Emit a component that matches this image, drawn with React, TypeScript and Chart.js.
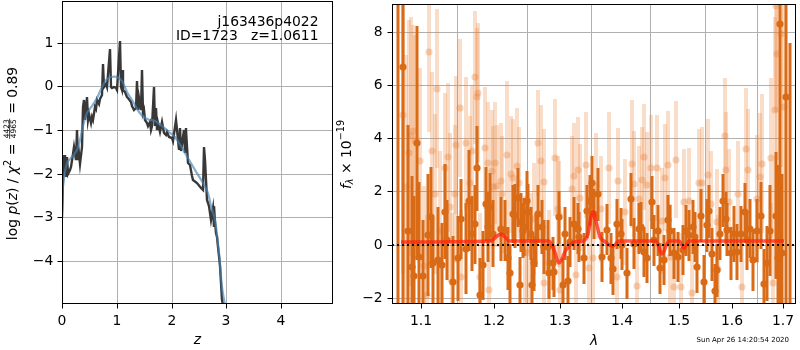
import React, { useEffect, useRef } from 'react';
import { Chart, registerables } from 'chart.js';
Chart.register(...registerables);

// ---------------- Left panel: log p(z) ----------------
const pzZ = [0, 0.012, 0.025, 0.037, 0.049, 0.062, 0.086, 0.111, 0.136, 0.167, 0.198, 0.222, 0.247, 0.265, 0.284, 0.309, 0.333, 0.358, 0.383, 0.401, 0.42, 0.444, 0.469, 0.494, 0.519, 0.543, 0.568, 0.593, 0.617, 0.642, 0.667, 0.691, 0.722, 0.753, 0.772, 0.802, 0.827, 0.864, 0.883, 0.914, 0.951, 0.981, 1.01, 1.05, 1.068, 1.09, 1.11, 1.12, 1.15, 1.18, 1.21, 1.25, 1.28, 1.31, 1.34, 1.37, 1.39, 1.41, 1.44, 1.46, 1.48, 1.5, 1.52, 1.55, 1.57, 1.6, 1.62, 1.64, 1.67, 1.69, 1.72, 1.74, 1.76, 1.79, 1.83, 1.86, 1.89, 1.92, 1.95, 2.0, 2.03, 2.09, 2.13, 2.16, 2.17, 2.22, 2.24, 2.26, 2.27, 2.3, 2.34, 2.37, 2.4, 2.46, 2.54, 2.57, 2.6, 2.62, 2.64, 2.68, 2.71, 2.73, 2.75, 2.77, 2.78, 2.8, 2.81, 2.83, 2.85, 2.86, 2.88, 2.91, 2.93, 2.95];
const pzLogP = [-2.99, -2.15, -1.58, -1.92, -1.58, -2.08, -1.62, -2.0, -1.92, -1.85, -1.54, -1.39, -1.69, -1.01, -1.69, -1.54, -1.77, -1.39, -0.47, -0.32, -0.78, -0.24, -0.78, -0.63, -0.85, -0.7, -0.78, -0.47, -0.51, -0.32, -0.4, -0.28, -0.21, 0.52, -0.02, 0.06, -0.02, 0.86, -0.02, -0.05, -0.02, -0.05, -0.09, 1.04, -0.02, -0.09, 0.37, -0.09, -0.12, -0.24, -0.27, -0.35, -0.46, -0.54, -0.5, 0.11, -0.54, -0.27, -0.54, 0.37, -0.62, -0.54, -0.77, -0.85, -0.92, -0.81, -1.0, -0.92, -0.01, -0.92, -0.5, -1.0, -0.85, -1.04, -0.81, -1.07, -1.11, -1.04, -1.15, -1.19, -1.26, -0.77, -1.46, -0.96, -1.49, -1.0, -1.53, -0.96, -1.0, -1.76, -1.8, -2.06, -2.14, -2.22, -2.33, -2.37, -1.38, -1.68, -2.6, -2.75, -2.9, -3.06, -2.79, -3.21, -2.75, -3.1, -3.36, -3.44, -3.67, -3.89, -4.12, -4.5, -4.88, -5.0];
const smoothZ = [0, 0.02, 0.08, 0.17, 0.26, 0.33, 0.38, 0.45, 0.54, 0.63, 0.72, 0.81, 0.9, 1.0, 1.09, 1.18, 1.28, 1.4, 1.52, 1.61, 1.7, 1.83, 1.95, 2.06, 2.25, 2.43, 2.58, 2.67, 2.73, 2.8, 2.86, 2.92, 2.97];
const smoothLogP = [-2.9, -2.29, -1.76, -1.61, -1.46, -1.23, -0.92, -0.62, -0.46, -0.27, -0.01, 0.16, 0.22, 0.21, 0.12, -0.12, -0.31, -0.58, -0.73, -0.77, -0.8, -0.9, -1.05, -1.17, -1.53, -1.91, -2.22, -2.45, -2.75, -3.06, -3.82, -4.58, -5.0];
const leftXTicks = [0, 1, 2, 3, 4];
const leftYTicks = [-4, -3, -2, -1, 0, 1];
const leftXRange = [0, 4.96];
const leftYRange = [-4.98, 1.95];

// ---------------- Right panel: spectrum ----------------
const darkLam = [1.0691, 1.0757, 1.0821, 1.0873, 1.0899, 1.0938, 1.0974, 1.1026, 1.1083, 1.1127, 1.1159, 1.1225, 1.1272, 1.1317, 1.1340, 1.1422, 1.1491, 1.1536, 1.1601, 1.1647, 1.1686, 1.1732, 1.1760, 1.1808, 1.1850, 1.1888, 1.1922, 1.1955, 1.1993,
  1.2101, 1.2159, 1.2207, 1.2247, 1.2281, 1.2316, 1.2365, 1.2385, 1.2405, 1.2430, 1.2455, 1.2495, 1.2514, 1.2554, 1.2564, 1.2605, 1.2630, 1.2666, 1.2716, 1.2757, 1.2808, 1.2834, 1.2885, 1.2912, 1.2989, 1.3042, 1.3080, 1.3120, 1.3163, 1.3226, 1.3279, 1.3305, 1.3375, 1.3430, 1.3483, 1.3511, 1.3548, 1.3601,
  1.3678, 1.3761, 1.3827, 1.3861, 1.3928, 1.3983, 1.4012, 1.4096, 1.4152, 1.4210, 1.4295, 1.4335, 1.4381, 1.4439, 1.4525, 1.4566, 1.4625, 1.4671, 1.4731, 1.4807, 1.4849, 1.4921, 1.4982, 1.5078, 1.5138, 1.5181, 1.5260, 1.5302,
  1.5327, 1.5401, 1.5463, 1.5513, 1.5555, 1.5617, 1.5668, 1.5712, 1.5763, 1.5826, 1.5871, 1.5902, 1.5966, 1.6030, 1.6094, 1.6159, 1.6237, 1.6289, 1.6342, 1.6407, 1.6485, 1.6553, 1.6625, 1.6685, 1.6739, 1.6853, 1.6899, 1.6940, 1.6994, 1.7068, 1.7144];
const darkFlux = [-2.8, 6.67, 0.5, -0.83, -1.18, 3.82, -0.46, -1.18, 0.37, 1.03, -0.7, -0.58, -0.77, 1.24, 0.16, -1.39, -0.52, 0.97, -0.15, 1.65, 0.41, 0.76, 2.87, -1.89, -0.77, 1.53, 0.66, 1.4, 0.41,
  0.6, 0.53, -0.52, -1.08, 1.15, 1.09, 1.77, -1.51, 0.84, 0.53, 0.66, 1.65, 1.22, 0.41, -1.51, -0.71, 0.16, 1.15, 0.66, -0.09, -0.09, -1.08, -0.71, -1.02, 1.03, -1.51, 0.41, -1.36, 0.1, 0.78, 0.6, 0.29, -0.52, 1.25, 1.65, 2.33, 1.15, 1.9,
  -0.46, 0.56, -0.52, -0.93, 0.78, 0.41, 0, -1.08, 1.71, 0.04, 0.6, 0.66, -0.27, -0.5, 1.59, 0.16, 0.53, -0.89, -0.58, 0.91, 0.53, -0.33, -0.46, -0.21, 0.53, 0.35, 0.66, 0.29,
  -0.83, 1.09, -1.39, 0.72, 1.25, -0.36, -1.74, -0.96, 0.41, 1.65, 0.97, 0.56, -0.33, 0.41, -0.27, 0.41, 1.22, 0.16, 0.6, -0.58, 0.53, 1.09, -1.48, -0.71, 0.53, 1.09, -0.52, 8.31, -0.33, 5.56, -3.0];
const darkErr = [14, 12, 4.0, 3.4, 3.0, 4.4, 2.8, 2.1, 2.3, 1.9, 1.7, 2.0, 1.6, 1.8, 1.5, 1.7, 1.6, 1.5, 1.7, 1.9, 1.4, 1.5, 1.6, 1.4, 1.3, 1.4, 1.3, 1.3, 1.25,
  1.2, 1.15, 1.2, 1.1, 1.1, 1.2, 1.1, 1.05, 1.1, 1.05, 1.1, 1.1, 1.05, 1.0, 1.0, 1.05, 1.0, 1.1, 1.0, 1.0, 1.0, 0.95, 1.0, 0.95, 1.0, 1.0, 1.0, 0.95, 0.95, 1.0, 0.95, 0.95, 0.95, 1.0, 0.95, 1.0, 0.95, 1.0,
  0.95, 0.95, 0.95, 0.95, 0.95, 0.95, 0.95, 0.95, 1.0, 0.95, 0.95, 0.95, 0.95, 0.95, 1.0, 0.95, 0.95, 0.95, 0.95, 0.95, 0.95, 0.95, 0.95, 0.95, 0.95, 0.95, 1.0, 0.95,
  1.0, 1.0, 1.0, 1.0, 1.0, 1.0, 1.0, 1.0, 1.0, 1.0, 1.0, 1.0, 1.0, 1.05, 1.05, 1.05, 1.1, 1.1, 1.1, 1.15, 1.2, 1.25, 1.3, 1.4, 1.7, 2.4, 3.5, 15, 3.0, 15, 10.6];

const lightLam = [1.0755, 1.0798, 1.0838, 1.0864, 1.0896, 1.0917, 1.0982, 1.1030, 1.1070, 1.1101, 1.1136, 1.1180, 1.1207, 1.1248, 1.1317, 1.1352, 1.1384, 1.1408, 1.1452, 1.1466, 1.1522, 1.1545, 1.1601, 1.1661, 1.1686, 1.1732, 1.1760, 1.1775, 1.1803, 1.1874, 1.1913, 1.1931, 1.1970, 1.1993,
  1.2027, 1.2056, 1.2101, 1.2120, 1.2192, 1.2256, 1.2281, 1.2343, 1.2380, 1.2465, 1.2495, 1.2554, 1.2605, 1.2666, 1.2706, 1.2747, 1.2757, 1.2834, 1.2927, 1.2963, 1.2989, 1.3005, 1.3184, 1.3215, 1.3253, 1.3279, 1.3321, 1.3413, 1.3455, 1.3520, 1.3575,
  1.3650, 1.3788, 1.3928, 1.3939, 1.4066, 1.4169, 1.4220, 1.4267, 1.4295, 1.4352, 1.4392, 1.4439, 1.4513, 1.4613, 1.4701, 1.4749, 1.4807, 1.4849, 1.4910, 1.4951, 1.5042, 1.5102, 1.5181, 1.5242,
  1.5370, 1.5425, 1.5537, 1.5586, 1.5700, 1.5720, 1.5852, 1.5871, 1.5934, 1.6108, 1.6190, 1.6269, 1.6309, 1.6485, 1.6533, 1.6572, 1.6753, 1.6805, 1.6833, 1.6853, 1.6873, 1.6974, 1.7021];
const lightFlux = [4.88, 2.15, 3.45, 4.07, 4.26, 3.9, 3.14, -0.8, -1.89, 7.23, 3.51, 1.9, 5.87, 0.53, 2.89, 3.29, 1.4, -1.4, 1.9, 3.76, 5.15, -1.2, 3.82, 2.33, 3.51, 6.3, 5.56, 5.72, -1.2, 3.64, 3.08, -1.7, 2.77, 2.15,
  3.08, 2.21, 2.39, 1.9, 3.36, 2.64, 2.52, 2.95, 2.33, -0.27, -0.33, -0.15, 0.97, 3.82, 3.14, 2.36, -1.45, -0.7, 3.26, 1.34, 1.15, -1.7, 2.08, 2.58, -1.14, 2.79, 1.77, 2.99, -0.89, -0.52, 2.21,
  1.34, 2.89, -1.2, 2.39, 1.22, 3.04, 2.27, -1.55, 1.71, 2.42, 3.3, 2.25, 2.89, 2.89, 0.88, 2.52, 3.01, -0.46, -1.58, 3.2, -1.58, 1.59, 1.65, -1.82,
  2.33, 2.33, 2.62, 1.52, 0.84, -0.9, 4.07, 2.79, 1.59, 1.9, -1.58, 3.6, 2.79, 1.71, 2.54, 3.05, 3.26, -1.45, 5.06, 8.97, 7.17, 7.92, 5.19];
const lightErr = [6, 5, 5, 4.5, 4, 4, 3.5, 3, 3, 3, 3, 3, 3, 3, 2.8, 2.8, 2.8, 2.6, 2.6, 2.6, 2.6, 2.5, 2.5, 2.5, 2.5, 2.5, 2.6, 2.6, 2.4, 2.3, 2.3, 2.3, 2.3, 2.3,
  2.3, 2.3, 2.2, 2.2, 2.8, 2.2, 2.2, 2.2, 2.1, 2.1, 2.1, 2.1, 2.1, 2.0, 2.1, 2.0, 2.0, 2.0, 2.2, 2.0, 2.0, 2.0, 2.0, 2.0, 2.0, 2.0, 2.0, 2.0, 2.0, 2.0, 2.0,
  2, 2.1, 2, 2, 2, 2.4, 2, 2, 2, 2, 2, 2, 2, 2, 2, 2, 2, 2, 2, 2.2, 2, 2, 2, 2,
  2, 2.1, 2.1, 2, 2, 2, 2.2, 2.2, 2, 2, 2, 2.3, 2.3, 2.4, 2.4, 2.6, 3, 3, 3.5, 4, 4, 5, 5];

const modelLam = [1.074, 1.196, 1.204, 1.211, 1.217, 1.223, 1.283, 1.291, 1.299, 1.309, 1.3226, 1.3358, 1.3439, 1.3494, 1.3531, 1.3575, 1.364, 1.371, 1.385, 1.396, 1.459, 1.4706, 1.4825, 1.5005, 1.5095, 1.5186, 1.702];
const modelFlux = [0.11, 0.12, 0.3, 0.41, 0.3, 0.13, 0.12, -0.2, -0.71, -0.21, 0.09, 0.13, 0.41, 1.03, 1.28, 0.9, 0.28, 0.12, -0.06, 0.12, 0.12, -0.34, 0.12, 0.12, -0.11, 0.12, 0.12];

const rightXTicks = [1.1, 1.2, 1.3, 1.4, 1.5, 1.6, 1.7];
const rightYTicks = [-2, 0, 2, 4, 6, 8];
const rightXRange = [1.0614, 1.7274];
const rightYRange = [-2.234, 9.05];

const TITLE = 'j163436p4022';
const SUBTITLE = 'ID=1723   z=1.0611';
const STAMP = 'Sun Apr 26 14:20:54 2020';

// ---------------- helpers ----------------
const FAM = "'DejaVu Sans'";
const TICK_FONT = { family: 'DejaVu Sans', size: 13.9 };
const minus = (v: number | string) => String(v).replace('-', '\u2212');
const RIGHT_OFF = 330; // page x of right canvas

type Seg = { t?: string; size: number; italic?: boolean; dy?: number; num?: string; den?: string; numY?: number; denY?: number; barY?: number };

function drawRotatedRich(ctx: CanvasRenderingContext2D, segs: Seg[], baseX: number, centerY: number) {
  const fontOf = (s: Seg) => `${s.italic ? 'italic ' : ''}${s.size}px ${FAM}`;
  const widths = segs.map((s) => {
    ctx.font = fontOf(s);
    if (s.num !== undefined) return Math.max(ctx.measureText(s.num).width, ctx.measureText(s.den || '').width) + 2;
    return ctx.measureText(s.t || '').width;
  });
  const total = widths.reduce((a, b) => a + b, 0);
  ctx.save();
  ctx.translate(baseX, centerY);
  ctx.rotate(-Math.PI / 2);
  ctx.fillStyle = '#000';
  ctx.textBaseline = 'alphabetic';
  let x = -total / 2;
  segs.forEach((s, i) => {
    ctx.font = fontOf(s);
    const w = widths[i];
    if (s.num !== undefined) {
      ctx.textAlign = 'center';
      ctx.fillText(s.num, x + w / 2, s.numY || 0);
      ctx.fillText(s.den || '', x + w / 2, s.denY || 0);
      ctx.fillRect(x + 0.5, (s.barY || 0) - 0.4, w - 1, 0.8);
      ctx.textAlign = 'left';
    } else {
      ctx.textAlign = 'left';
      ctx.fillText(s.t || '', x, s.dy || 0);
    }
    x += w;
  });
  ctx.restore();
}

// frame + outward tick marks on the bottom and left axes (matplotlib style)
function frameAndTicks(chart: any, xTicks: number[], yTicks: number[]) {
  const { left, top, right, bottom } = chart.chartArea;
  const ctx = chart.ctx;
  const xs = chart.scales.x, ys = chart.scales.y;
  ctx.save();
  ctx.strokeStyle = '#000';
  ctx.lineWidth = 1;
  const l = Math.round(left) + 0.5, t = Math.round(top) + 0.5;
  const r = Math.round(right) - 0.5, b = Math.round(bottom) - 0.5;
  ctx.strokeRect(l, t, r - l, b - t);
  ctx.beginPath();
  xTicks.forEach((v) => {
    const px = Math.round(xs.getPixelForValue(v)) + 0.5;
    ctx.moveTo(px, b); ctx.lineTo(px, b + 5);
  });
  yTicks.forEach((v) => {
    const py = Math.round(ys.getPixelForValue(v)) + 0.5;
    ctx.moveTo(l, py); ctx.lineTo(l - 5, py);
  });
  ctx.stroke();
  ctx.restore();
}

function axisCommon(ticksArr: number[], fmt: (v: number) => string, sizeFix: (s: any) => void) {
  return {
    alignToPixels: true,
    afterBuildTicks: (s: any) => { s.ticks = ticksArr.map((v) => ({ value: v })); },
    afterFit: (s: any) => {
      sizeFix(s);
      s.paddingTop = 0; s.paddingBottom = 0; s.paddingLeft = 0; s.paddingRight = 0;
    },
    ticks: { autoSkip: false, maxRotation: 0, minRotation: 0, font: TICK_FONT, color: '#000', padding: 9, callback: (v: any) => fmt(Number(v)) },
    grid: { color: '#b0b0b0', lineWidth: 1, drawTicks: false, tickLength: 0 },
    border: { display: false },
    title: { display: false },
  };
}

const leftPlugin = {
  id: 'leftDecor',
  afterDraw(chart: any) {
    frameAndTicks(chart, leftXTicks, leftYTicks);
    const ctx = chart.ctx;
    ctx.save();
    ctx.fillStyle = '#000';
    ctx.font = `13.9px ${FAM}`;
    ctx.textAlign = 'right';
    ctx.textBaseline = 'alphabetic';
    ctx.fillText(TITLE, 318.5, 25.5);
    ctx.fillText(SUBTITLE, 318.5, 40);
    ctx.font = `italic 13.9px ${FAM}`;
    ctx.textAlign = 'center';
    ctx.fillText('z', 197.5, 344);
    ctx.restore();
    drawRotatedRich(ctx, [
      { t: 'log ', size: 13.9 },
      { t: 'p', size: 13.9, italic: true },
      { t: '(', size: 13.9 },
      { t: 'z', size: 13.9, italic: true },
      { t: ') / ', size: 13.9 },
      { t: '\u03c7', size: 13.9, italic: true },
      { t: '2', size: 9.7, dy: -6 },
      { t: ' = ', size: 13.9 },
      { num: '4423', den: '4965', size: 7.5, numY: -8, denY: -0.6, barY: -6.8 },
      { t: ' = 0.89', size: 13.9 },
    ], 16.5, 153.5);
  },
};

const rightPlugin = {
  id: 'rightDecor',
  afterDraw(chart: any) {
    frameAndTicks(chart, rightXTicks, rightYTicks);
    const ctx = chart.ctx;
    ctx.save();
    ctx.fillStyle = '#000';
    ctx.font = `italic 13.9px ${FAM}`;
    ctx.textAlign = 'center';
    ctx.textBaseline = 'alphabetic';
    ctx.fillText('\u03bb', 594 - RIGHT_OFF, 345);
    ctx.font = `7px ${FAM}`;
    ctx.textAlign = 'left';
    ctx.fillText(STAMP, 696.5 - RIGHT_OFF, 341.5);
    ctx.restore();
    drawRotatedRich(ctx, [
      { t: 'f', size: 13.9, italic: true },
      { t: '\u03bb', size: 9.7, italic: true, dy: 2.5 },
      { t: ' \u00d7 10', size: 13.9 },
      { t: '\u221219', size: 9.7, dy: -6.5 },
    ], 350.5 - RIGHT_OFF, 154.5);
  },
};

function leftConfig(): any {
  return {
    type: 'scatter',
    data: {
      datasets: [
        {
          label: 'p(z)',
          data: pzZ.map((z, i) => ({ x: z, y: pzLogP[i] })),
          showLine: true,
          borderColor: 'rgba(45,45,45,0.95)',
          borderWidth: 2.4,
          pointRadius: 0,
          tension: 0,
          order: 2,
        },
        {
          label: 'smooth',
          data: smoothZ.map((z, i) => ({ x: z, y: smoothLogP[i] })),
          showLine: true,
          borderColor: 'rgba(70,130,180,0.65)',
          borderWidth: 2.2,
          pointRadius: 0,
          tension: 0.35,
          order: 1,
        },
      ],
    },
    options: {
      animation: false,
      responsive: false,
      maintainAspectRatio: false,
      devicePixelRatio: 1,
      layout: { padding: { left: 0, right: 6.7, top: 1, bottom: 0 } },
      plugins: { legend: { display: false }, tooltip: { enabled: false } },
      events: [],
      scales: {
        x: { type: 'linear', min: leftXRange[0], max: leftXRange[1], ...axisCommon(leftXTicks, (v) => minus(v), (s: any) => { s.height = 46; }) },
        y: { type: 'linear', min: leftYRange[0], max: leftYRange[1], ...axisCommon(leftYTicks, (v) => minus(v), (s: any) => { s.width = 62.3; }) },
      },
    },
    plugins: [leftPlugin],
  };
}

function rightConfig(): any {
  const ORANGE = 'rgb(217,106,22)';
  const LIGHT = 'rgba(232,130,55,0.27)';
  return {
    type: 'scatter',
    data: {
      datasets: [
        {
          type: 'bar',
          label: 'light err',
          data: lightLam.map((x, i) => ({ x, y: [lightFlux[i] - lightErr[i], lightFlux[i] + lightErr[i]] })),
          backgroundColor: LIGHT,
          borderWidth: 0,
          barThickness: 4,
          inflateAmount: 0,
          grouped: false,
          clip: 0,
          order: 6,
        },
        {
          label: 'light',
          data: lightLam.map((x, i) => ({ x, y: lightFlux[i] })),
          pointRadius: 3.6,
          backgroundColor: 'rgba(232,130,55,0.34)',
          borderWidth: 0,
          clip: 0,
          order: 5,
        },
        {
          type: 'bar',
          label: 'dark err',
          data: darkLam.map((x, i) => ({ x, y: [darkFlux[i] - darkErr[i], darkFlux[i] + darkErr[i]] })),
          backgroundColor: ORANGE,
          borderWidth: 0,
          barThickness: 3,
          inflateAmount: 0,
          grouped: false,
          clip: 0,
          order: 4,
        },
        {
          label: 'dark',
          data: darkLam.map((x, i) => ({ x, y: darkFlux[i] })),
          pointRadius: 3.6,
          backgroundColor: ORANGE,
          borderWidth: 0,
          clip: 0,
          order: 3,
        },
        {
          type: 'line',
          label: 'model',
          data: modelLam.map((x, i) => ({ x, y: modelFlux[i] })),
          borderColor: 'rgba(255,35,15,0.75)',
          borderWidth: 3.5,
          pointRadius: 0,
          cubicInterpolationMode: 'monotone',
          fill: false,
          clip: 0,
          order: 2,
        },
        {
          type: 'line',
          label: 'zero',
          data: [{ x: rightXRange[0], y: 0 }, { x: rightXRange[1], y: 0 }],
          borderColor: '#111',
          borderWidth: 2,
          borderDash: [2, 3],
          pointRadius: 0,
          fill: false,
          clip: 0,
          order: 1,
        },
      ],
    },
    options: {
      animation: false,
      responsive: false,
      maintainAspectRatio: false,
      devicePixelRatio: 1,
      layout: { padding: { left: 0, right: 2.5, top: 1, bottom: 0 } },
      plugins: { legend: { display: false }, tooltip: { enabled: false } },
      events: [],
      scales: {
        x: { type: 'logarithmic', offset: false, min: rightXRange[0], max: rightXRange[1], ...axisCommon(rightXTicks, (v) => v.toFixed(1), (s: any) => { s.height = 46; }) },
        y: { type: 'linear', min: rightYRange[0], max: rightYRange[1], ...axisCommon(rightYTicks, (v) => minus(v), (s: any) => { s.width = 391.7 - RIGHT_OFF; }) },
      },
    },
    plugins: [rightPlugin],
  };
}

export default function App() {
  const leftRef = useRef<HTMLCanvasElement>(null);
  const rightRef = useRef<HTMLCanvasElement>(null);
  useEffect(() => {
    const c1 = new Chart(leftRef.current as HTMLCanvasElement, leftConfig());
    const c2 = new Chart(rightRef.current as HTMLCanvasElement, rightConfig());
    return () => { c1.destroy(); c2.destroy(); };
  }, []);
  return (
    <div style={{ position: 'absolute', left: 0, top: 0, width: 800, height: 350, background: '#fff' }}>
      <canvas ref={leftRef} width={340} height={350} style={{ position: 'absolute', left: 0, top: 0, width: 340, height: 350 }} />
      <canvas ref={rightRef} width={800 - RIGHT_OFF} height={350} style={{ position: 'absolute', left: RIGHT_OFF, top: 0, width: 800 - RIGHT_OFF, height: 350 }} />
    </div>
  );
}
